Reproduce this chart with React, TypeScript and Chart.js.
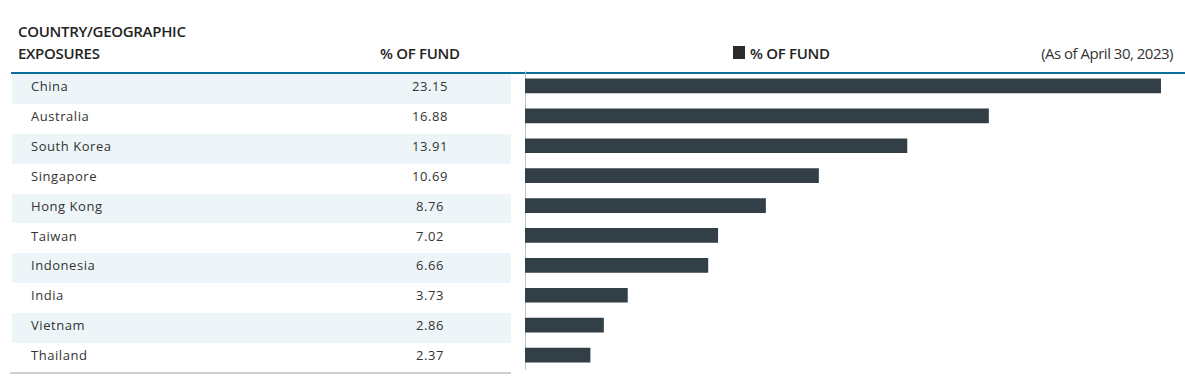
import React, { useEffect, useRef } from "react";
import { Chart, registerables } from "chart.js";

Chart.register(...registerables);

const countries = ["China", "Australia", "South Korea", "Singapore", "Hong Kong", "Taiwan", "Indonesia", "India", "Vietnam", "Thailand"];
const fundPct = [23.15, 16.88, 13.91, 10.69, 8.76, 7.02, 6.66, 3.73, 2.86, 2.37];
const seriesLabel = "% OF FUND";
const asOfLabel = "(As of April 30, 2023)";
const xMax = 23.6;

const BAR = "#323f47";
const TEAL = "#0b7097";
const BAND = "#edf5f8";
const TEXT = "#333333";
const HEAD_FONT = "'Open Sans', sans-serif";

const headStyle: React.CSSProperties = {
  fontFamily: HEAD_FONT,
  fontSize: 15,
  fontWeight: 600,
  lineHeight: "22px",
  letterSpacing: "-0.3px",
  color: "#232323",
  whiteSpace: "nowrap",
};

export default function App() {
  const ref = useRef<HTMLCanvasElement | null>(null);

  useEffect(() => {
    if (!ref.current) return;
    const chart = new Chart(ref.current, {
      type: "bar",
      data: {
        labels: countries,
        datasets: [
          {
            label: seriesLabel,
            data: fundPct,
            backgroundColor: BAR,
            barThickness: 14,
            borderWidth: 0,
          },
        ],
      },
      options: {
        indexAxis: "y",
        animation: false,
        responsive: false,
        maintainAspectRatio: false,
        layout: { padding: 0 },
        plugins: { legend: { display: false }, tooltip: { enabled: false } },
        scales: {
          x: { display: false, min: 0, max: xMax },
          y: {
            display: true,
            ticks: { display: false },
            grid: { display: false, drawTicks: false },
            border: { display: true, color: "#b8c8d2", width: 1, dash: [1, 1] },
          },
        },
      },
    });
    return () => chart.destroy();
  }, []);

  const rowH = 29.9;
  const rowTop = 74;

  return (
    <div style={{ position: "absolute", left: 0, top: 0, width: 1185, height: 377, background: "#fff", color: TEXT, overflow: "hidden" }}>
      {/* headers */}
      <div style={{ ...headStyle, position: "absolute", left: 18, top: 20 }}>
        COUNTRY/GEOGRAPHIC
        <br />
        EXPOSURES
      </div>
      <div style={{ ...headStyle, position: "absolute", left: 380, top: 42 }}>{seriesLabel}</div>
      {/* legend */}
      <div style={{ position: "absolute", left: 733, top: 46, width: 12, height: 13, background: "#2b2b2b" }} />
      <div style={{ ...headStyle, position: "absolute", left: 750, top: 42 }}>{seriesLabel}</div>
      <div style={{ ...headStyle, fontWeight: 400, letterSpacing: "-0.5px", color: "#333", position: "absolute", right: 12, top: 42 }}>{asOfLabel}</div>
      {/* teal rule */}
      <div style={{ position: "absolute", left: 11, top: 72, width: 1174, height: 2, background: TEAL }} />
      {/* table rows */}
      {countries.map((c, i) => (
        <div
          key={c}
          style={{
            position: "absolute",
            left: 12,
            top: rowTop + i * rowH,
            width: 499,
            height: rowH,
            background: i % 2 === 0 ? BAND : "#fff",
            fontFamily: HEAD_FONT,
            fontSize: 13,
            lineHeight: "24px",
            letterSpacing: "0.55px",
            color: TEXT,
          }}
        >
          <span style={{ position: "absolute", left: 19, top: 0 }}>{c}</span>
          <span style={{ position: "absolute", left: 368, width: 100, top: 0, textAlign: "center" }}>{fundPct[i].toFixed(2)}</span>
        </div>
      ))}
      <div style={{ position: "absolute", left: 10, top: 372, width: 501, height: 2, background: "#cfcfcf" }} />
      {/* chart */}
      <canvas ref={ref} width={648} height={299} style={{ position: "absolute", left: 525, top: 71, width: 648, height: 299 }} />
    </div>
  );
}
